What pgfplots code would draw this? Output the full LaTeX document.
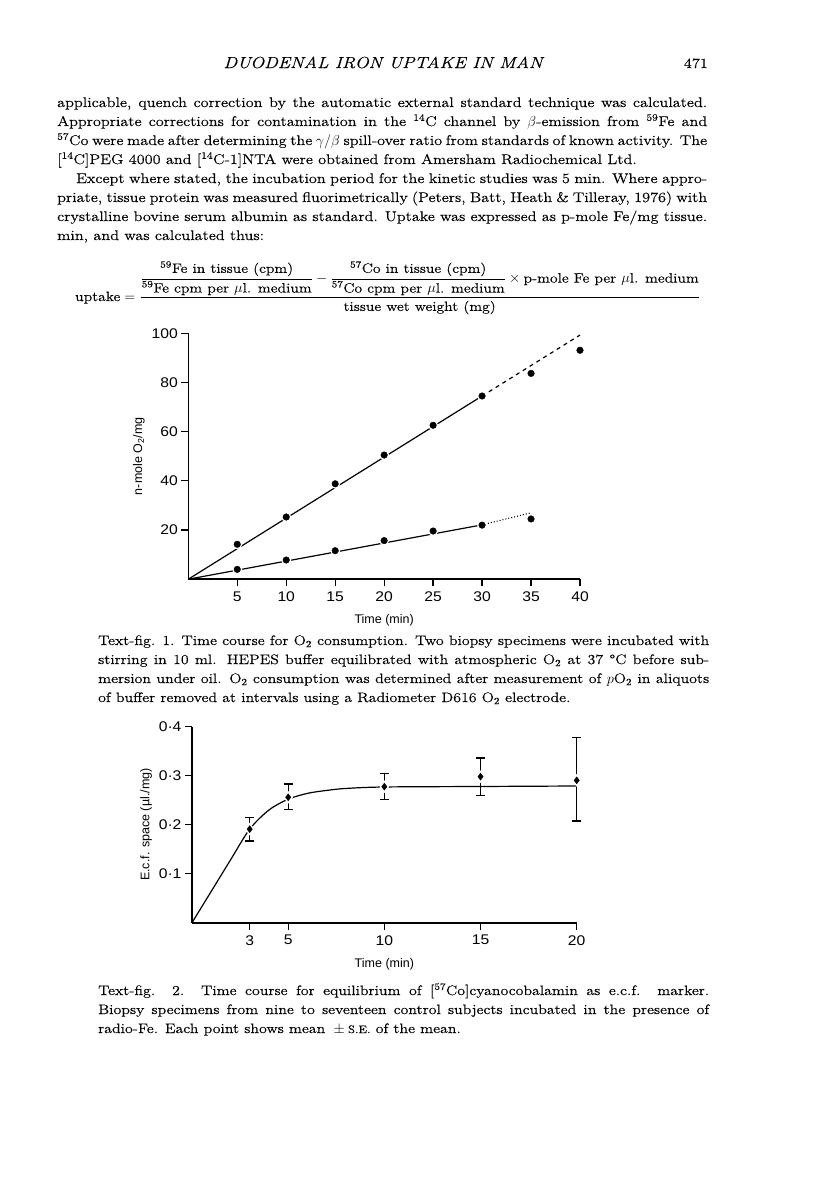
\documentclass[border=0pt]{standalone}
\usepackage{amsmath}
\usepackage{fontspec}
\usepackage{pgfplots}
\pgfplotsset{compat=1.18}
\setmainfont{Latin Modern Roman}[FakeStretch=1.16, FakeBold=0.25]
\newfontfamily\chartfont{Liberation Sans}[FakeStretch=1.12]
\newfontfamily\labelfont{Liberation Sans}
\newcommand\tx{\fontsize{14}{19}\selectfont}
\newcommand\cx{\fontsize{13.7}{19}\selectfont}
\newcommand\fsc[1]{{\fontsize{10.8}{12}\selectfont #1}}
% justified line: x, baseline y, width, text
\newcommand\jl[4]{\node[anchor=base west,inner sep=0pt] at (#1pt,-#2pt) {\tx\makebox[#3pt][s]{#4}};}
% ragged line: x, baseline y, text
\newcommand\rl[3]{\node[anchor=base west,inner sep=0pt] at (#1pt,-#2pt) {\tx #3};}
% caption lines
\newcommand\jc[4]{\node[anchor=base west,inner sep=0pt] at (#1pt,-#2pt) {\cx\makebox[#3pt][s]{#4}};}
\newcommand\rc[3]{\node[anchor=base west,inner sep=0pt] at (#1pt,-#2pt) {\cx #3};}
\pgfplotsset{
  page chart/.style={
    scale only axis,
    anchor=south west,
    axis x line*=bottom,
    axis y line*=left,
    axis line style={line width=1.6pt},
    tick align=outside,
    major tick length=7pt,
    tick style={line width=1.3pt,black},
    ticklabel style={font=\chartfont\fontsize{14}{16}\selectfont},
    xticklabel style={yshift=-2pt},
    /pgf/number format/assume math mode=true,
    label style={font=\labelfont\fontsize{12.5}{15}\selectfont},
    xlabel style={yshift=-6pt},
    clip=false,
  },
}
\begin{document}
\begin{tikzpicture}
\path (0pt,0pt) rectangle (816pt,-1191pt);

% running head
\node[anchor=base,inner sep=0pt] at (383pt,-68pt) {\fontsize{16}{19}\selectfont\itshape DUODENAL IRON UPTAKE IN MAN};
\node[anchor=base east,inner sep=0pt] at (708pt,-68pt) {\tx 471};

% body text
\jl{57}{107}{650}{applicable, quench correction by the automatic external standard technique was calculated.}
\jl{57}{126}{650}{Appropriate corrections for contamination in the \textsuperscript{14}C channel by $\beta$-emission from \textsuperscript{59}Fe and}
\jl{57}{145}{650}{\textsuperscript{57}Co were made after determining the $\gamma/\beta$ spill-over ratio from standards of known activity. The}
\rl{57}{164}{[\textsuperscript{14}C]PEG 4000 and [\textsuperscript{14}C-1]NTA were obtained from Amersham Radiochemical Ltd.}
\jl{76}{183}{631}{Except where stated, the incubation period for the kinetic studies was 5 min. Where appro-}
\jl{57}{202}{650}{priate, tissue protein was measured fluorimetrically (Peters, Batt, Heath \& Tilleray, 1976) with}
\jl{57}{221}{650}{crystalline bovine serum albumin as standard. Uptake was expressed as p-mole Fe/mg tissue.}
\rl{57}{240}{min, and was calculated thus:}

% formula
\node[anchor=base west,inner sep=0pt] at (75pt,-301pt) {\fontsize{13.5}{19}\selectfont
  $\text{uptake} = \dfrac{\dfrac{\text{\textsuperscript{59}Fe in tissue (cpm)}}{\text{\textsuperscript{59}Fe cpm per $\mu$l. medium}}
  - \dfrac{\text{\textsuperscript{57}Co in tissue (cpm)}}{\text{\textsuperscript{57}Co cpm per $\mu$l. medium}}
  \times \text{p-mole Fe per $\mu$l. medium}}{\text{tissue wet weight (mg)}}$};

% Text-fig. 1
\begin{axis}[page chart,
  at={(188.3pt,-579.2pt)},
  width=391.7pt, height=245.9pt,
  xmin=0, xmax=40, ymin=0, ymax=100,
  xtick={5,10,...,40}, ytick={20,40,...,100},
  xlabel={Time (min)},
  ylabel={n-mole O\textsubscript{2}/mg},
]
\addplot[line width=1.2pt] coordinates {(0,0) (30,74.5)};
\addplot[line width=1.2pt, dash pattern=on 4pt off 4pt] coordinates {(30,74.5) (40,99.3)};
\addplot[line width=1.2pt] coordinates {(0,0) (30,22.1)};
\addplot[line width=1.1pt, dash pattern=on 1pt off 2pt] coordinates {(30,22.1) (35,27)};
\addplot[only marks, mark=*, mark size=3.3pt, mark options={draw=white, fill=white, line width=3pt}] coordinates {
(5,14.2) (10,25.3) (15,38.8) (20,50.5) (25,62.6) (30,74.5) (35,83.7) (40,93.1)
(5,4.0) (10,7.8) (15,11.6) (20,15.7) (25,19.6) (30,22.0) (35,24.5)};
\addplot[only marks, mark=*, mark size=3.3pt, mark options={fill=black}] coordinates {
(5,14.2) (10,25.3) (15,38.8) (20,50.5) (25,62.6) (30,74.5) (35,83.7) (40,93.1)};
\addplot[only marks, mark=*, mark size=3.3pt, mark options={fill=black}] coordinates {
(5,4.0) (10,7.8) (15,11.6) (20,15.7) (25,19.6) (30,22.0) (35,24.5)};
\end{axis}

\jc{98}{645}{611}{Text-fig. 1. Time course for O\textsubscript{2} consumption. Two biopsy specimens were incubated with}
\jc{98}{664}{611}{stirring in 10 ml. HEPES buffer equilibrated with atmospheric O\textsubscript{2} at 37~°C before sub-}
\jc{98}{683}{611}{mersion under oil. O\textsubscript{2} consumption was determined after measurement of $p$O\textsubscript{2} in aliquots}
\rc{98}{702}{of buffer removed at intervals using a Radiometer D616 O\textsubscript{2} electrode.}

% Text-fig. 2
\begin{axis}[page chart,
  at={(192pt,-922.7pt)},
  width=384.7pt, height=196pt,
  xmin=0, xmax=20, ymin=0, ymax=0.4,
  xtick={3,5,10,15,20},
  ytick={0.1,0.2,0.3,0.4},
  yticklabels={0·1,0·2,0·3,0·4},
  xlabel={Time (min)},
  ylabel={E.c.f. space (µl./mg)},
]
\addplot[line width=1.2pt, smooth, tension=0.5] coordinates {
(0,0) (1,0.064) (2,0.128) (3,0.191) (4,0.23) (5,0.252) (6,0.264) (7,0.27) (8,0.274) (10,0.277) (15,0.278) (20,0.279)};
\addplot[only marks, mark=diamond*, mark size=3.5pt, mark options={draw=white, fill=white, line width=3.5pt}] coordinates {
(3,0.191) (5,0.256) (10,0.2776) (15,0.298) (20,0.2906)};
\addplot[only marks, mark=diamond*, mark size=3.5pt, mark options={fill=black},
  error bars/.cd, y dir=both, y explicit,
  error bar style={line width=1.3pt},
  error mark options={rotate=90, mark size=4.5pt, line width=1.3pt}] coordinates {
(3,0.191) += (0,0.024) -= (0,0.024)
(5,0.256) += (0,0.027) -= (0,0.025)
(10,0.2776) += (0,0.027) -= (0,0.026)
(15,0.298) += (0,0.038) -= (0,0.039)
(20,0.2906) += (0,0.088) -= (0,0.083)};
\end{axis}

\jc{98}{995}{611}{Text-fig. 2. Time course for equilibrium of [\textsuperscript{57}Co]cyanocobalamin as e.c.f. marker.}
\jc{98}{1014}{611}{Biopsy specimens from nine to seventeen control subjects incubated in the presence of}
\rc{98}{1033}{radio-Fe. Each point shows mean ${}\pm{}$\fsc{S.E.} of the mean.}
\end{tikzpicture}
\end{document}
